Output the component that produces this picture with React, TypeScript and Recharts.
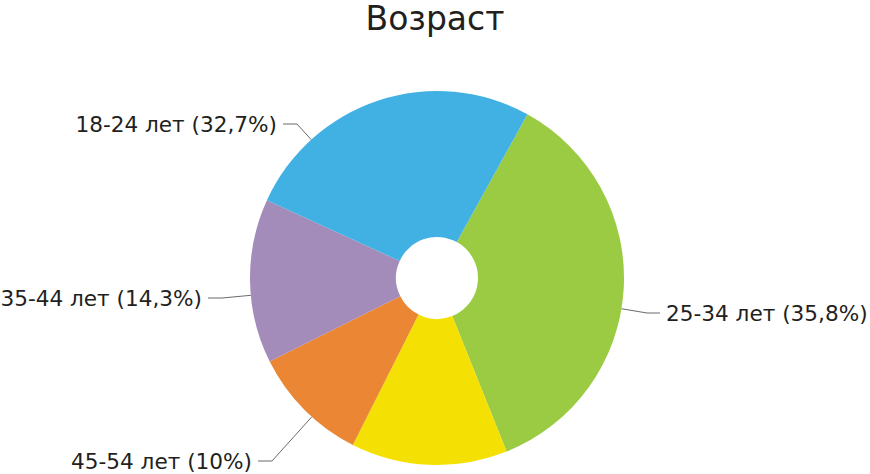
import React from "react";
import { PieChart, Pie, Cell } from "recharts";

// Age groups, clockwise from the top-right
const categories = ["25-34 лет", "Прочие", "45-54 лет", "35-44 лет", "18-24 лет"];
// slice sizes as drawn (angles)
const values = [35.9, 13.5, 10.2, 14.2, 26.2];
// percentages printed in the labels
const labelPercents = ["35,8%", "", "10%", "14,3%", "32,7%"];
const colors = ["#9ACB42", "#F4E003", "#EA8634", "#A38BBA", "#41B1E3"];

// where each label's leader line bends, relative to the pie centre
const labelElbows: ({ dx: number; dy: number } | null)[] = [
  { dx: 210, dy: 35 },
  null,
  { dx: -165, dy: 183 },
  { dx: -215, dy: 20 },
  { dx: -140, dy: -154 },
];

const data = categories.map((name, i) => ({ name, value: values[i] }));

const W = 870;
const H = 474;
const CX = 437;
const CY = 278;
const R = 187;

const renderLabel = (props: any) => {
  const { cx, cy, outerRadius, index } = props;
  const elbow = labelElbows[index];
  if (!elbow || !labelPercents[index]) return null;
  const ex = cx + elbow.dx;
  const ey = cy + elbow.dy;
  const len = Math.sqrt(elbow.dx * elbow.dx + elbow.dy * elbow.dy);
  const tx = cx + (elbow.dx / len) * outerRadius;
  const ty = cy + (elbow.dy / len) * outerRadius;
  const right = elbow.dx > 0;
  const hx = ex + (right ? 13 : -14);
  const textX = hx + (right ? 6 : -6);
  return (
    <g key={`lbl-${index}`}>
      <polyline
        points={`${tx},${ty} ${ex},${ey} ${hx},${ey}`}
        fill="none"
        stroke="#444"
        strokeWidth={0.8}
      />
      <text
        x={textX}
        y={ey}
        textAnchor={right ? "start" : "end"}
        dominantBaseline="central"
        fontFamily="DejaVu Sans, Verdana, sans-serif"
        fontSize={21.6}
        fill="#231F20"
      >
        {`${categories[index]} (${labelPercents[index]})`}
      </text>
    </g>
  );
};

export default function App() {
  return (
    <div
      style={{
        position: "absolute",
        left: 0,
        top: 0,
        width: W,
        height: H,
        background: "#fff",
      }}
    >
      <div
        style={{
          position: "absolute",
          left: 0,
          top: 0,
          width: W,
          textAlign: "center",
          fontFamily: "DejaVu Sans, Verdana, sans-serif",
          fontSize: 33,
          lineHeight: "38px",
          color: "#231F20",
        }}
      >
        Возраст
      </div>
      <PieChart
        width={W}
        height={H}
        margin={{ top: 0, right: 0, bottom: 0, left: 0 }}
        style={{ position: "absolute", left: 0, top: 0 }}
      >
        <Pie
          data={data}
          dataKey="value"
          nameKey="name"
          cx={CX}
          cy={CY}
          innerRadius={41}
          outerRadius={R}
          startAngle={61.1}
          endAngle={-298.9}
          stroke="none"
          label={renderLabel}
          labelLine={false}
          isAnimationActive={false}
        >
          {data.map((d, i) => (
            <Cell key={d.name} fill={colors[i]} />
          ))}
        </Pie>
      </PieChart>
    </div>
  );
}
